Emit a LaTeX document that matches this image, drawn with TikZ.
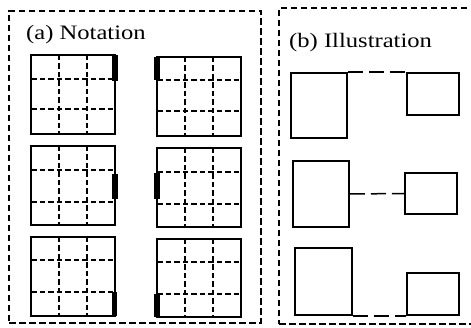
\documentclass[tikz,border=0pt]{standalone}
\usepackage{fontspec}
\setmainfont{Liberation Serif}
\usetikzlibrary{fit}
\begin{document}
\begin{tikzpicture}[x=1pt,y=-1pt,
  panel/.style={draw, line width=1.6pt, dash pattern=on 6.5pt off 3.5pt},
  gridbox/.style={draw, line width=1.6pt, rectangle, inner sep=0pt},
  gridline/.style={line width=1.4pt, dash pattern=on 5.5pt off 3pt},
  bar/.style={line width=5.5pt, line cap=butt},
  plainbox/.style={draw, line width=1.6pt, rectangle, inner sep=0pt},
  link/.style={line width=1.5pt, dash pattern=on 15pt off 6pt},
  title/.style={anchor=base west, inner sep=0pt, font=\fontsize{20.5}{24}\selectfont}
]
\useasboundingbox (0,0) rectangle (471,328);
\clip (0,0) rectangle (471,328);

% panels
\node[panel, rectangle, inner sep=0pt, fit={(9,11) (261,323)}] (pa) {};
\node[panel, rectangle, inner sep=0pt, fit={(279,8) (490,324)}] (pb) {};
\node[title] (ta) at (26,40) {\scalebox{1.2}[1]{(a) Notation}};
\node[title] (tb) at (289,48) {\scalebox{1.2}[1]{(b) Illustration}};

% grid boxes
\node[gridbox, fit={(31,55) (115,134)}] (g1) {};
\node[gridbox, fit={(157,57) (241,136)}] (g2) {};
\node[gridbox, fit={(31,146) (115,225)}] (g3) {};
\node[gridbox, fit={(157,148) (241,227)}] (g4) {};
\node[gridbox, fit={(31,237) (115,316)}] (g5) {};
\node[gridbox, fit={(157,239) (241,317)}] (g6) {};

% grid lines
\draw[gridline] (59,55) -- (59,134) (87,55) -- (87,134) (31,79) -- (115,79) (31,109) -- (115,109);
\draw[gridline] (185,57) -- (185,136) (213,57) -- (213,136) (157,80) -- (241,80) (157,111) -- (241,111);
\draw[gridline] (59,146) -- (59,225) (87,146) -- (87,225) (31,170) -- (115,170) (31,202) -- (115,202);
\draw[gridline] (185,148) -- (185,227) (213,148) -- (213,227) (157,172) -- (241,172) (157,204) -- (241,204);
\draw[gridline] (59,237) -- (59,316) (87,237) -- (87,316) (31,260) -- (115,260) (31,292) -- (115,292);
\draw[gridline] (185,239) -- (185,317) (213,239) -- (213,317) (157,262) -- (241,262) (157,294) -- (241,294);

% bars
\draw[bar] (115,55) -- (115,81);
\draw[bar] (157,57) -- (157,80);
\draw[bar] (115,174) -- (115,199);
\draw[bar] (157,173) -- (157,199);
\draw[bar] (114.5,292) -- (114.5,316);
\draw[bar] (157,294) -- (157,317);

% illustration boxes
\node[plainbox, fit={(291,73) (347,138)}] (l1) {};
\node[plainbox, fit={(407,73) (459,115)}] (r1) {};
\node[plainbox, fit={(293,161) (349,227)}] (l2) {};
\node[plainbox, fit={(405,173) (457,214)}] (r2) {};
\node[plainbox, fit={(295,248) (352,315)}] (l3) {};
\node[plainbox, fit={(407,273) (459,315)}] (r3) {};

\draw[link] (l1.north east) -- (r1.north west);
\draw[link] (l2.east) -- (r2.west);
\draw[link] (l3.south east) -- (r3.south west);
\end{tikzpicture}
\end{document}
